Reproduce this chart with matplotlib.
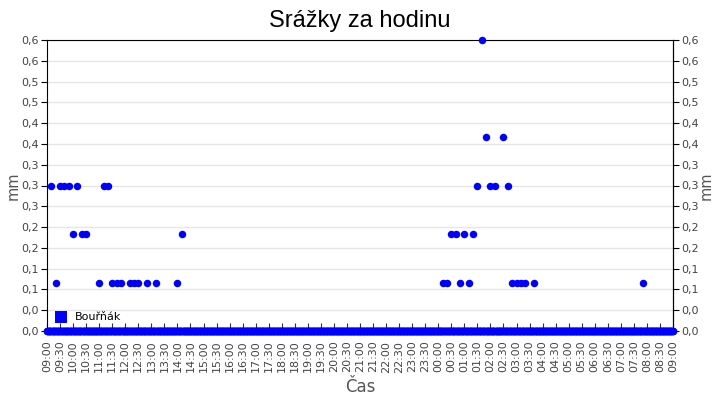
import matplotlib
matplotlib.use("Agg")
import matplotlib.pyplot as plt
import matplotlib.dates as mdates
from matplotlib.ticker import FixedLocator, FuncFormatter
import numpy as np
import pandas as pd

# Non-zero readings (time of day, mm); every other reading is 0
rain_times = [
    "09:10", "09:20", "09:30", "09:40", "09:50", "10:00", "10:10", "10:20",
    "10:30", "11:00", "11:10", "11:20", "11:30", "11:40", "11:50", "12:10",
    "12:20", "12:30", "12:50", "13:10", "14:00", "14:10",
    "00:10", "00:20", "00:30", "00:40", "00:50", "01:00", "01:10", "01:20",
    "01:30", "01:40", "01:50", "02:00", "02:10", "02:30", "02:40",
    "02:50", "03:00", "03:10", "03:20", "03:40", "07:50",
]
rain_mm = [
    0.3, 0.1, 0.3, 0.3, 0.3, 0.2, 0.3, 0.2,
    0.2, 0.1, 0.3, 0.3, 0.1, 0.1, 0.1, 0.1,
    0.1, 0.1, 0.1, 0.1, 0.1, 0.2,
    0.1, 0.1, 0.2, 0.2, 0.1, 0.2, 0.1, 0.2,
    0.3, 0.6, 0.4, 0.3, 0.3, 0.4, 0.3,
    0.1, 0.1, 0.1, 0.1, 0.1, 0.1,
]

start = pd.Timestamp("2024-01-01 09:00")
end = pd.Timestamp("2024-01-02 09:00")
grid = pd.date_range(start, end, freq="1min")


def to_stamp(t):
    ts = pd.Timestamp(f"2024-01-01 {t}")
    return ts if ts >= start else ts + pd.Timedelta(days=1)


series = pd.Series(0.0, index=grid)
for t, v in zip(rain_times, rain_mm):
    series[to_stamp(t)] = v

fig = plt.figure(figsize=(7.2, 4.0), dpi=100)
ax = fig.add_axes([47 / 720, 1 - 331 / 400, 626 / 720, 291 / 400])

# right-hand axis just mirrors the left one
ax2 = ax.twinx()
ax2.set_ylim(0, 0.6)
for side in ("left", "top", "bottom"):
    ax2.spines[side].set_visible(False)

# draw the points on the top-most axes so nothing covers them
ax2.plot(series.index, series.values, linestyle="none", marker="o",
         markersize=5.4, markeredgewidth=0, color="#0000ff", clip_on=False,
         zorder=5, label="Bouřňák")

ax.set_xlim(start, end)
ax.set_ylim(0, 0.6)
yticks = np.arange(15) * 0.6 / 14
fmt = FuncFormatter(lambda v, p: f"{v:.1f}".replace(".", ","))
ax.yaxis.set_major_locator(FixedLocator(yticks))
ax.yaxis.set_major_formatter(fmt)
ax.grid(True, axis="y", color="#e6e6e6", linewidth=1)
ax.set_axisbelow(True)

ax.xaxis.set_major_locator(mdates.MinuteLocator(byminute=[0, 30]))
ax.xaxis.set_major_formatter(mdates.DateFormatter("%H:%M"))
ax.tick_params(axis="x", rotation=90, labelsize=8, labelcolor="#444444",
               color="#333333", direction="in", length=6, pad=7)
ax.tick_params(axis="y", labelsize=8, labelcolor="#444444", length=4, pad=2)

ax2.yaxis.set_major_locator(FixedLocator(yticks))
ax2.yaxis.set_major_formatter(fmt)
ax2.tick_params(axis="y", labelsize=8, labelcolor="#444444", length=4, pad=2)

ax.set_ylabel("mm", fontsize=10.5, color="#555555", labelpad=0)
ax2.set_ylabel("mm", fontsize=10.5, color="#555555", rotation=90, labelpad=0)
ax.set_xlabel("Čas", fontsize=12, color="#555555", labelpad=4)

fig.suptitle("Srážky za hodinu", fontsize=17, family="Liberation Sans",
             y=0.975)

leg = ax2.legend(loc="lower left", frameon=False, fontsize=8,
                 handlelength=0.8, handletextpad=0.8,
                 bbox_to_anchor=(0.0, -0.005))
for h in leg.legend_handles:
    h.set_marker("s")
    h.set_markersize(8)

fig.savefig("out.png", dpi=100)
